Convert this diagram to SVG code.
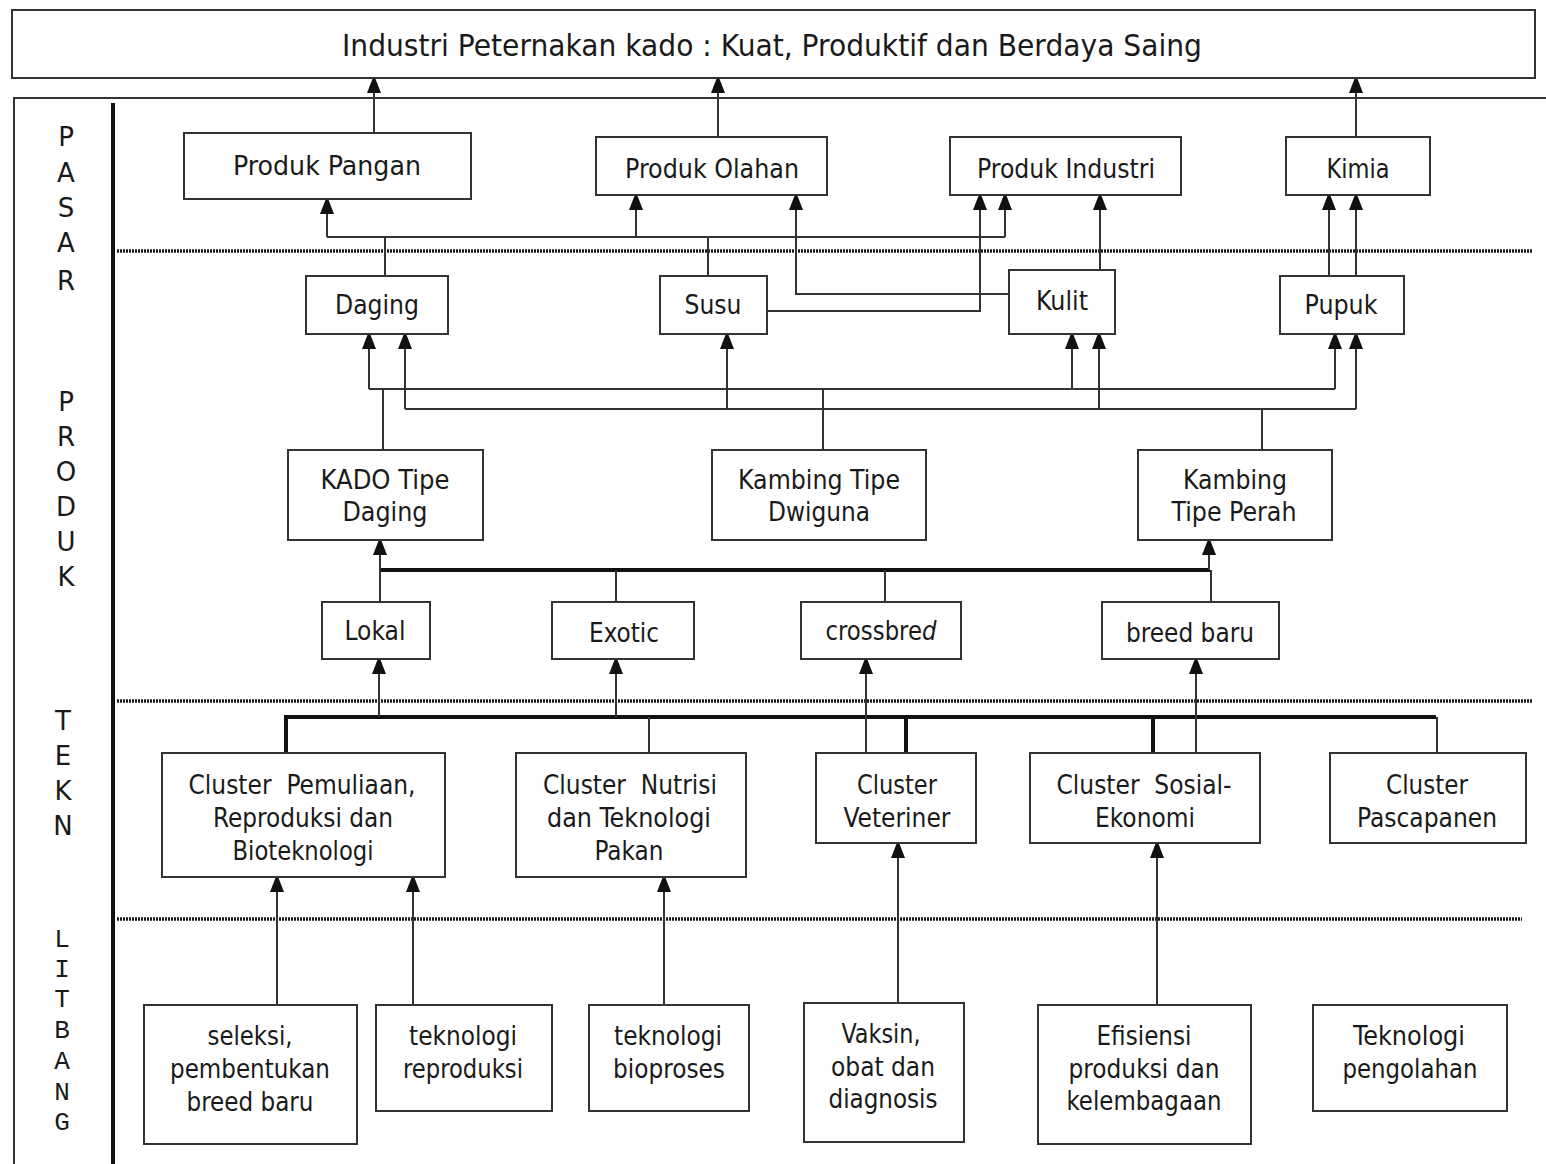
<svg xmlns="http://www.w3.org/2000/svg" width="1546" height="1164" viewBox="0 0 1546 1164">
  <style>
    .box { fill: #fff; stroke: #333; stroke-width: 2; }
    .t { font-family: "DejaVu Sans Condensed", "DejaVu Sans", sans-serif; font-size: 26px; fill: #1a1a1a; text-anchor: middle; }
    .title { font-size: 31px; }
    .side { font-family: "DejaVu Sans", sans-serif; font-size: 26px; fill: #1a1a1a; text-anchor: middle; }
    .mono { font-family: "Liberation Mono", "DejaVu Sans Mono", monospace; font-size: 26px; fill: #1a1a1a; text-anchor: middle; }
    .ln { fill: none; stroke: #333; stroke-width: 2; }
    .thick { fill: none; stroke: #111; stroke-width: 4; }
    .arr { fill: none; stroke: #333; stroke-width: 2; marker-end: url(#head); }
    .dot { fill: none; stroke: #1a1a1a; stroke-width: 3.5; stroke-dasharray: 2 1; }
  </style>
  <defs>
    <marker id="head" markerUnits="userSpaceOnUse" markerWidth="14" markerHeight="20" refX="14" refY="7" orient="auto">
      <path d="M0 0 L18 7 L0 14 Z" fill="#111"/>
    </marker>
  </defs>

  <rect width="1546" height="1164" fill="#fff"/>

  <!-- frame and layer separators -->
  <g id="frame">
    <path class="ln" d="M14 1164 V98 H1546"/>
    <path class="thick" d="M113 103 V1164"/>
    <path class="dot" d="M117 251 H1532"/>
    <path class="dot" d="M117 701 H1532"/>
    <path class="dot" d="M117 919 H1522"/>
  </g>

  <!-- layer labels -->
  <g id="layer-pasar">
    <text class="side" x="66" y="146">P</text>
    <text class="side" x="66" y="182">A</text>
    <text class="side" x="66" y="217">S</text>
    <text class="side" x="66" y="252">A</text>
    <text class="side" x="66" y="290">R</text>
  </g>
  <g id="layer-produk">
    <text class="side" x="66" y="411">P</text>
    <text class="side" x="66" y="446">R</text>
    <text class="side" x="66" y="481">O</text>
    <text class="side" x="66" y="516">D</text>
    <text class="side" x="66" y="551">U</text>
    <text class="side" x="66" y="586">K</text>
  </g>
  <g id="layer-tekn">
    <text class="side" x="63" y="730">T</text>
    <text class="side" x="63" y="765">E</text>
    <text class="side" x="63" y="800">K</text>
    <text class="side" x="63" y="835">N</text>
  </g>
  <g id="layer-litbang">
    <text class="mono" x="62" y="947">L</text>
    <text class="mono" x="62" y="977">I</text>
    <text class="mono" x="62" y="1007">T</text>
    <text class="mono" x="62" y="1038">B</text>
    <text class="mono" x="62" y="1069">A</text>
    <text class="mono" x="62" y="1100">N</text>
    <text class="mono" x="62" y="1130">G</text>
  </g>

  <!-- connectors -->
  <g id="connectors">
    <!-- market products to goal -->
    <path class="arr" d="M374 133 V79"/>
    <path class="arr" d="M718 137 V79"/>
    <path class="arr" d="M1356 137 V79"/>

    <!-- daging / susu bus to markets -->
    <path class="ln" d="M327 237 H1005"/>
    <path class="arr" d="M327 237 V200"/>
    <path class="arr" d="M636 237 V196"/>
    <path class="arr" d="M1005 237 V196"/>
    <path class="ln" d="M385 276 V237"/>
    <path class="ln" d="M708 276 V237"/>
    <path class="arr" d="M1009 294 H796 V196"/>
    <path class="arr" d="M1100 270 V196"/>
    <path class="arr" d="M767 311 H980 V196"/>
    <path class="arr" d="M1329 276 V196"/>
    <path class="arr" d="M1356 276 V196"/>

    <!-- goat types to products -->
    <path class="ln" d="M369 389 H1335"/>
    <path class="arr" d="M369 389 V335"/>
    <path class="arr" d="M1072 389 V335"/>
    <path class="arr" d="M1335 389 V335"/>
    <path class="ln" d="M383 450 V389"/>
    <path class="ln" d="M823 450 V389"/>
    <path class="ln" d="M405 409 H1356"/>
    <path class="arr" d="M405 409 V335"/>
    <path class="arr" d="M727 409 V335"/>
    <path class="arr" d="M1099 409 V335"/>
    <path class="arr" d="M1356 409 V335"/>
    <path class="ln" d="M1262 450 V409"/>

    <!-- breeds to goat types -->
    <path class="thick" d="M380 570 H1210"/>
    <path class="arr" d="M380 570 V541"/>
    <path class="arr" d="M1209 570 V541"/>
    <path class="ln" d="M380 602 V570"/>
    <path class="ln" d="M616 602 V570"/>
    <path class="ln" d="M885 602 V570"/>
    <path class="ln" d="M1211 602 V570"/>

    <!-- clusters to breeds -->
    <path class="thick" d="M286 753 V717 H1436"/>
    <path class="thick" d="M906 717 V753"/>
    <path class="thick" d="M1153 717 V753"/>
    <path class="ln" d="M649 717 V753"/>
    <path class="ln" d="M1437 717 V753"/>
    <path class="arr" d="M379 717 V660"/>
    <path class="arr" d="M616 717 V660"/>
    <path class="arr" d="M866 753 V660"/>
    <path class="arr" d="M1196 753 V660"/>

    <!-- research to clusters -->
    <path class="arr" d="M277 1005 V878"/>
    <path class="arr" d="M413 1005 V878"/>
    <path class="arr" d="M664 1005 V878"/>
    <path class="arr" d="M898 1003 V844"/>
    <path class="arr" d="M1157 1005 V844"/>
  </g>

  <!-- goal -->
  <g id="goal">
    <rect class="box" x="12" y="10" width="1523" height="68"/>
    <text class="t title" x="772" y="56" textLength="860" lengthAdjust="spacingAndGlyphs">Industri Peternakan kado : Kuat, Produktif dan Berdaya Saing</text>
  </g>

  <!-- market products -->
  <g id="produk-pangan">
    <rect class="box" x="184" y="133" width="287" height="66"/>
    <text class="t" x="327" y="175" textLength="188" lengthAdjust="spacingAndGlyphs">Produk Pangan</text>
  </g>
  <g id="produk-olahan">
    <rect class="box" x="596" y="137" width="231" height="58"/>
    <text class="t" x="712" y="178" textLength="174" lengthAdjust="spacingAndGlyphs">Produk Olahan</text>
  </g>
  <g id="produk-industri">
    <rect class="box" x="950" y="137" width="231" height="58"/>
    <text class="t" x="1066" y="178" textLength="178" lengthAdjust="spacingAndGlyphs">Produk Industri</text>
  </g>
  <g id="kimia">
    <rect class="box" x="1286" y="137" width="144" height="58"/>
    <text class="t" x="1358" y="178" textLength="63" lengthAdjust="spacingAndGlyphs">Kimia</text>
  </g>

  <!-- raw products -->
  <g id="daging">
    <rect class="box" x="306" y="276" width="142" height="58"/>
    <text class="t" x="377" y="314" textLength="84" lengthAdjust="spacingAndGlyphs">Daging</text>
  </g>
  <g id="susu">
    <rect class="box" x="660" y="276" width="107" height="58"/>
    <text class="t" x="713" y="314" textLength="57" lengthAdjust="spacingAndGlyphs">Susu</text>
  </g>
  <g id="kulit">
    <rect class="box" x="1009" y="270" width="106" height="64"/>
    <text class="t" x="1062" y="310" textLength="52" lengthAdjust="spacingAndGlyphs">Kulit</text>
  </g>
  <g id="pupuk">
    <rect class="box" x="1280" y="276" width="124" height="58"/>
    <text class="t" x="1341" y="314" textLength="73" lengthAdjust="spacingAndGlyphs">Pupuk</text>
  </g>

  <!-- goat types -->
  <g id="kado-tipe-daging">
    <rect class="box" x="288" y="450" width="195" height="90"/>
    <text class="t" x="385" y="489" textLength="129" lengthAdjust="spacingAndGlyphs">KADO Tipe</text>
    <text class="t" x="385" y="521" textLength="85" lengthAdjust="spacingAndGlyphs">Daging</text>
  </g>
  <g id="kambing-dwiguna">
    <rect class="box" x="712" y="450" width="214" height="90"/>
    <text class="t" x="819" y="489" textLength="162" lengthAdjust="spacingAndGlyphs">Kambing Tipe</text>
    <text class="t" x="819" y="521" textLength="102" lengthAdjust="spacingAndGlyphs">Dwiguna</text>
  </g>
  <g id="kambing-perah">
    <rect class="box" x="1138" y="450" width="194" height="90"/>
    <text class="t" x="1235" y="489" textLength="104" lengthAdjust="spacingAndGlyphs">Kambing</text>
    <text class="t" x="1234" y="521" textLength="125" lengthAdjust="spacingAndGlyphs">Tipe Perah</text>
  </g>

  <!-- breeds -->
  <g id="lokal">
    <rect class="box" x="322" y="602" width="108" height="57"/>
    <text class="t" x="375" y="640" textLength="61" lengthAdjust="spacingAndGlyphs">Lokal</text>
  </g>
  <g id="exotic">
    <rect class="box" x="552" y="602" width="142" height="57"/>
    <text class="t" x="624" y="642" textLength="70" lengthAdjust="spacingAndGlyphs">Exotic</text>
  </g>
  <g id="crossbred">
    <rect class="box" x="801" y="602" width="160" height="57"/>
    <text class="t" x="881" y="640" textLength="111" lengthAdjust="spacingAndGlyphs">crossbre<tspan font-style="italic">d</tspan></text>
  </g>
  <g id="breed-baru">
    <rect class="box" x="1102" y="602" width="177" height="57"/>
    <text class="t" x="1190" y="642" textLength="128" lengthAdjust="spacingAndGlyphs">breed baru</text>
  </g>

  <!-- research clusters -->
  <g id="cluster-pemuliaan">
    <rect class="box" x="162" y="753" width="283" height="124"/>
    <text class="t" x="302" y="794" textLength="227" lengthAdjust="spacingAndGlyphs" xml:space="preserve">Cluster  Pemuliaan,</text>
    <text class="t" x="303" y="827" textLength="180" lengthAdjust="spacingAndGlyphs">Reproduksi dan</text>
    <text class="t" x="303" y="860" textLength="141" lengthAdjust="spacingAndGlyphs">Bioteknologi</text>
  </g>
  <g id="cluster-nutrisi">
    <rect class="box" x="516" y="753" width="230" height="124"/>
    <text class="t" x="630" y="794" textLength="174" lengthAdjust="spacingAndGlyphs" xml:space="preserve">Cluster  Nutrisi</text>
    <text class="t" x="629" y="827" textLength="164" lengthAdjust="spacingAndGlyphs">dan Teknologi</text>
    <text class="t" x="629" y="860" textLength="69" lengthAdjust="spacingAndGlyphs">Pakan</text>
  </g>
  <g id="cluster-veteriner">
    <rect class="box" x="816" y="753" width="160" height="90"/>
    <text class="t" x="897" y="794" textLength="80" lengthAdjust="spacingAndGlyphs">Cluster</text>
    <text class="t" x="897" y="827" textLength="107" lengthAdjust="spacingAndGlyphs">Veteriner</text>
  </g>
  <g id="cluster-sosial">
    <rect class="box" x="1030" y="753" width="230" height="90"/>
    <text class="t" x="1144" y="794" textLength="175" lengthAdjust="spacingAndGlyphs" xml:space="preserve">Cluster  Sosial-</text>
    <text class="t" x="1145" y="827" textLength="100" lengthAdjust="spacingAndGlyphs">Ekonomi</text>
  </g>
  <g id="cluster-pascapanen">
    <rect class="box" x="1330" y="753" width="196" height="90"/>
    <text class="t" x="1427" y="794" textLength="82" lengthAdjust="spacingAndGlyphs">Cluster</text>
    <text class="t" x="1427" y="827" textLength="140" lengthAdjust="spacingAndGlyphs">Pascapanen</text>
  </g>

  <!-- research topics -->
  <g id="seleksi">
    <rect class="box" x="144" y="1005" width="213" height="139"/>
    <text class="t" x="250" y="1045" textLength="85" lengthAdjust="spacingAndGlyphs">seleksi,</text>
    <text class="t" x="250" y="1078" textLength="160" lengthAdjust="spacingAndGlyphs">pembentukan</text>
    <text class="t" x="250" y="1111" textLength="127" lengthAdjust="spacingAndGlyphs">breed baru</text>
  </g>
  <g id="teknologi-reproduksi">
    <rect class="box" x="376" y="1005" width="176" height="106"/>
    <text class="t" x="463" y="1045" textLength="108" lengthAdjust="spacingAndGlyphs">teknologi</text>
    <text class="t" x="463" y="1078" textLength="120" lengthAdjust="spacingAndGlyphs">reproduksi</text>
  </g>
  <g id="teknologi-bioproses">
    <rect class="box" x="589" y="1005" width="160" height="106"/>
    <text class="t" x="668" y="1045" textLength="108" lengthAdjust="spacingAndGlyphs">teknologi</text>
    <text class="t" x="669" y="1078" textLength="112" lengthAdjust="spacingAndGlyphs">bioproses</text>
  </g>
  <g id="vaksin">
    <rect class="box" x="804" y="1003" width="160" height="139"/>
    <text class="t" x="881" y="1043" textLength="79" lengthAdjust="spacingAndGlyphs">Vaksin,</text>
    <text class="t" x="883" y="1076" textLength="104" lengthAdjust="spacingAndGlyphs">obat dan</text>
    <text class="t" x="883" y="1108" textLength="109" lengthAdjust="spacingAndGlyphs">diagnosis</text>
  </g>
  <g id="efisiensi">
    <rect class="box" x="1038" y="1005" width="213" height="139"/>
    <text class="t" x="1144" y="1045" textLength="95" lengthAdjust="spacingAndGlyphs">Efisiensi</text>
    <text class="t" x="1144" y="1078" textLength="151" lengthAdjust="spacingAndGlyphs">produksi dan</text>
    <text class="t" x="1144" y="1110" textLength="155" lengthAdjust="spacingAndGlyphs">kelembagaan</text>
  </g>
  <g id="teknologi-pengolahan">
    <rect class="box" x="1313" y="1005" width="194" height="106"/>
    <text class="t" x="1409" y="1045" textLength="112" lengthAdjust="spacingAndGlyphs">Teknologi</text>
    <text class="t" x="1410" y="1078" textLength="135" lengthAdjust="spacingAndGlyphs">pengolahan</text>
  </g>
</svg>
